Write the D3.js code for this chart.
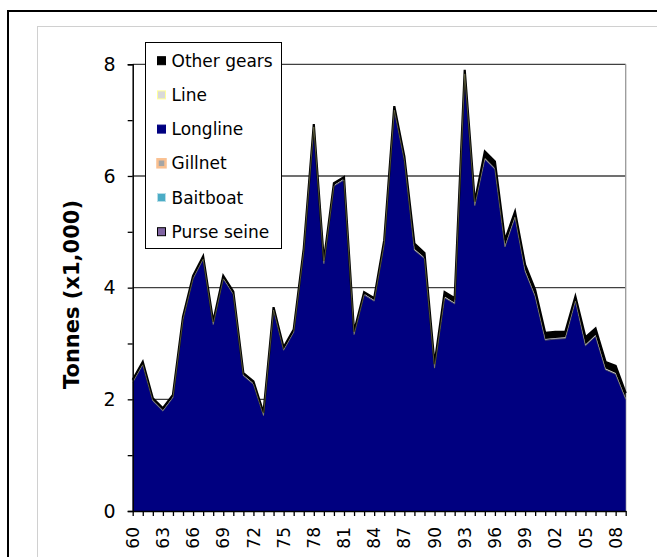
<!DOCTYPE html>
<html>
<head>
<meta charset="utf-8">
<script src="https://cdn.jsdelivr.net/npm/d3@7"></script>
<style>
	body { margin: 0; background: #fff; }
	svg { display: block; font-family: "DejaVu Sans", Verdana, sans-serif; }
</style>
</head>
<body>
<svg id="viz"></svg>
<script>
// Catch by gear, tonnes x1,000
const years = [1960, 1961, 1962, 1963, 1964, 1965, 1966, 1967, 1968, 1969,
	1970, 1971, 1972, 1973, 1974, 1975, 1976, 1977, 1978, 1979,
	1980, 1981, 1982, 1983, 1984, 1985, 1986, 1987, 1988, 1989,
	1990, 1991, 1992, 1993, 1994, 1995, 1996, 1997, 1998, 1999,
	2000, 2001, 2002, 2003, 2004, 2005, 2006, 2007, 2008, 2009];

const purseSeine = [0, 0, 0, 0, 0, 0, 0, 0, 0, 0,
	0, 0, 0, 0, 0, 0, 0, 0, 0, 0,
	0, 0, 0, 0, 0, 0, 0, 0, 0, 0,
	0, 0, 0, 0, 0, 0, 0, 0, 0, 0,
	0, 0, 0, 0, 0, 0, 0, 0, 0, 0];

const baitboat = [0, 0, 0, 0, 0, 0, 0, 0, 0, 0,
	0, 0, 0, 0, 0, 0, 0, 0, 0, 0,
	0, 0, 0, 0, 0, 0, 0, 0, 0, 0,
	0, 0, 0, 0, 0, 0, 0, 0, 0, 0,
	0, 0, 0, 0, 0, 0, 0, 0, 0, 0];

const gillnet = [0, 0, 0, 0, 0, 0, 0, 0, 0, 0,
	0, 0, 0, 0, 0, 0, 0, 0, 0, 0,
	0, 0, 0, 0, 0, 0, 0, 0, 0, 0,
	0, 0, 0, 0, 0, 0, 0, 0, 0, 0,
	0, 0, 0, 0, 0, 0, 0, 0, 0, 0];

const longline = [2.31, 2.63, 1.98, 1.80, 2.04, 3.44, 4.17, 4.52, 3.35, 4.17,
	3.89, 2.43, 2.28, 1.72, 3.61, 2.89, 3.21, 4.66, 6.89, 4.44,
	5.83, 5.94, 3.17, 3.88, 3.77, 4.79, 7.19, 6.29, 4.68, 4.53,
	2.57, 3.83, 3.72, 7.84, 5.48, 6.31, 6.13, 4.74, 5.27, 4.30,
	3.85, 3.07, 3.09, 3.10, 3.77, 2.97, 3.14, 2.54, 2.46, 2.01];

const line = [0.01, 0.01, 0.01, 0.01, 0.01, 0.01, 0.01, 0.01, 0.01, 0.01,
	0.01, 0.01, 0.01, 0.01, 0.01, 0.01, 0.01, 0.01, 0.01, 0.01,
	0.01, 0.01, 0.01, 0.01, 0.01, 0.01, 0.01, 0.01, 0.01, 0.01,
	0.01, 0.01, 0.01, 0.01, 0.01, 0.01, 0.01, 0.01, 0.01, 0.01,
	0.01, 0.01, 0.01, 0.01, 0.01, 0.01, 0.01, 0.01, 0.01, 0.01];

const otherGears = [0.03, 0.03, 0.03, 0.03, 0.03, 0.03, 0.03, 0.03, 0.03, 0.03,
	0.03, 0.03, 0.03, 0.03, 0.03, 0.03, 0.03, 0.03, 0.03, 0.03,
	0.03, 0.03, 0.03, 0.03, 0.03, 0.05, 0.05, 0.05, 0.10, 0.08,
	0.05, 0.08, 0.08, 0.05, 0.05, 0.12, 0.12, 0.10, 0.08, 0.10,
	0.10, 0.11, 0.11, 0.10, 0.06, 0.13, 0.12, 0.12, 0.13, 0.09];

// bottom to top, as stacked
const gears = ["Purse seine", "Baitboat", "Gillnet", "Longline", "Line", "Other gears"];
const gearValues = [purseSeine, baitboat, gillnet, longline, line, otherGears];

const tickYears = [1960, 1963, 1966, 1969, 1972, 1975, 1978, 1981, 1984, 1987, 1990, 1993, 1996, 1999, 2002, 2005, 2008];
const tickLabels = ["60", "63", "66", "69", "72", "75", "78", "81", "84", "87", "90", "93", "96", "99", "02", "05", "08"];
const yTicks = [0, 2, 4, 6, 8];
const yMinorTicks = [1, 3, 5, 7];

const fills = {
	"Purse seine": "#8064a2",
	"Baitboat": "#4bacc6",
	"Gillnet": "#a5a5a5",
	"Longline": "#000080",
	"Line": "#d9d9d9",
	"Other gears": "#000000"
};
const strokes = {
	"Purse seine": "#000000",
	"Baitboat": "#b7dee8",
	"Gillnet": "#fac090",
	"Longline": "#000080",
	"Line": "#ffff99",
	"Other gears": "#000000"
};
// the Line edge shows as a faint olive hairline under the black band
const lineEdge = "#8c8c5a";

let translate = function(x, y) {
	return "translate(" + x + "," + y + ")";
};

const width = 657;
const height = 557;
const margin = { top: 64.3, left: 132.7, right: 31.3, bottom: 46 };
const plotWidth = width - margin.left - margin.right;
const plotHeight = 511 - margin.top;

const svg = d3.select("svg#viz")
	.attr("width", width)
	.attr("height", height);

// outer frames
svg.append("rect")
	.attr("x", 8).attr("y", 11)
	.attr("width", 700).attr("height", 600)
	.attr("fill", "none").attr("stroke", "#000").attr("stroke-width", 2);

svg.append("rect")
	.attr("x", 37.5).attr("y", 26.5)
	.attr("width", 700).attr("height", 600)
	.attr("fill", "none").attr("stroke", "#d0d0d0").attr("stroke-width", 1);

const plot = svg.append("g").attr("id", "plot")
	.attr("transform", translate(margin.left, margin.top));

const rows = years.map(function(yr, i) {
	let r = { year: yr };
	gears.forEach((g, j) => r[g] = gearValues[j][i]);
	return r;
});

const series = d3.stack().keys(gears)(rows);

const x = d3.scalePoint()
	.domain(years)
	.range([0, plotWidth]);

const y = d3.scaleLinear()
	.domain([0, 8])
	.range([plotHeight, 0]);

// gridlines
plot.append("g").attr("id", "grid")
	.selectAll("line")
	.data(yTicks.filter(d => d > 0))
	.join("line")
	.attr("x1", 0).attr("x2", plotWidth)
	.attr("y1", d => y(d)).attr("y2", d => y(d))
	.attr("stroke", "#404040").attr("stroke-width", 1.3);

// right border of plot
plot.append("line")
	.attr("x1", plotWidth).attr("x2", plotWidth)
	.attr("y1", 0).attr("y2", plotHeight)
	.attr("stroke", "#999").attr("stroke-width", 1.3);

// areas
const area = d3.area()
	.x(d => x(d.data.year))
	.y0(d => y(d[0]))
	.y1(d => y(d[1]));

const topLine = d3.line()
	.x(d => x(d.data.year))
	.y(d => y(d[1]));

plot.append("g").attr("id", "area")
	.selectAll("path")
	.data(series)
	.join("path")
	.attr("fill", d => fills[d.key])
	.attr("d", area);

// top edges: black outline of Other gears, then the Line hairline just beneath it
const otherSeries = series.find(s => s.key == "Other gears");
const lineSeries = series.find(s => s.key == "Line");

plot.append("path")
	.attr("fill", "none")
	.attr("stroke", strokes["Other gears"])
	.attr("stroke-width", 2.2)
	.attr("d", topLine(otherSeries));

plot.append("path")
	.attr("fill", "none")
	.attr("stroke", lineEdge)
	.attr("stroke-width", 0.6)
	.attr("transform", translate(0, 1.2))
	.attr("d", topLine(lineSeries));

// axes
const yAxis = plot.append("g").attr("id", "y-axis")
	.call(d3.axisLeft(y).tickValues(yTicks.concat(yMinorTicks)).tickSize(5).tickFormat(""));
yAxis.select(".domain").attr("stroke-width", 1.5);
yAxis.selectAll(".tick line").attr("stroke-width", 1.3);

plot.append("g")
	.selectAll("text")
	.data(yTicks)
	.join("text")
	.attr("x", -17)
	.attr("y", d => y(d))
	.attr("dy", "0.36em")
	.attr("text-anchor", "end")
	.attr("font-size", 19)
	.attr("fill", "#000")
	.text(d => d);

const xAxis = plot.append("g").attr("id", "x-axis")
	.attr("transform", translate(0, plotHeight))
	.call(d3.axisBottom(x).tickSize(5).tickSizeOuter(0).tickFormat(""));
xAxis.select(".domain").attr("stroke-width", 1.5);
xAxis.selectAll(".tick line").attr("stroke-width", 1.3);

plot.append("g")
	.selectAll("text")
	.data(tickYears)
	.join("text")
	.attr("transform", d => translate(x(d), plotHeight + 16) + " rotate(-90)")
	.attr("dy", "0.36em")
	.attr("text-anchor", "end")
	.attr("font-size", 17)
	.attr("fill", "#000")
	.text((d, i) => tickLabels[i]);

// y title
svg.append("text")
	.attr("transform", translate(78.5, 294.5) + " rotate(-90)")
	.attr("text-anchor", "middle")
	.attr("font-size", 21)
	.attr("font-weight", "bold")
	.text("Tonnes (x1,000)");

// legend
drawLegend();

function drawLegend() {
	const legend = svg.append("g").attr("id", "legend")
		.attr("transform", translate(145.5, 42.5));

	legend.append("rect")
		.attr("width", 136)
		.attr("height", 206)
		.attr("fill", "#fff")
		.attr("stroke", "#000")
		.attr("stroke-width", 1);

	const order = gears.slice().reverse();
	const legendScale = d3.scalePoint()
		.domain(order)
		.range([18.2, 189.2]);

	const item = legend.selectAll("g.item")
		.data(order)
		.join("g")
		.attr("class", "item")
		.attr("transform", d => translate(0, legendScale(d)));

	item.append("rect")
		.attr("x", 12).attr("y", -4)
		.attr("width", 8).attr("height", 8)
		.attr("fill", d => fills[d])
		.attr("stroke", d => strokes[d])
		.attr("stroke-width", d => d == "Gillnet" ? 2.5 : 1);

	item.append("text")
		.attr("x", 26)
		.attr("dy", "0.36em")
		.attr("font-size", 17)
		.text(d => d);
}
</script>
</body>
</html>
